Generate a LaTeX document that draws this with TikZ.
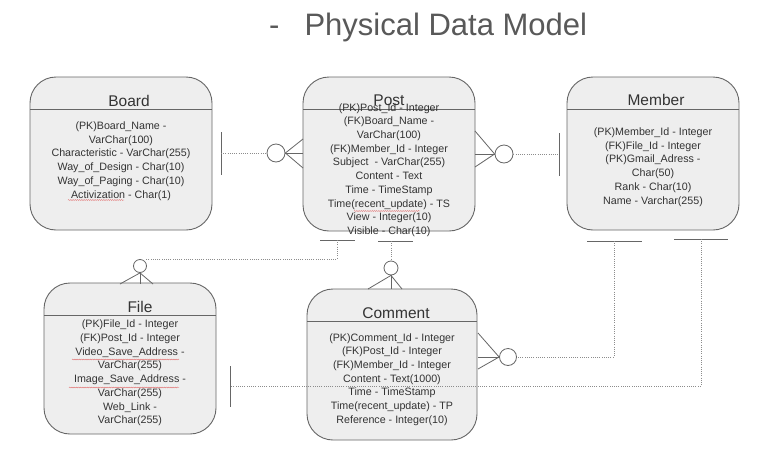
\documentclass[tikz,border=0pt]{standalone}
\usepackage{fontspec}
\setmainfont{Liberation Sans}
\usetikzlibrary{decorations.pathmorphing}
\definecolor{boxfill}{HTML}{EEEEEE}
\definecolor{boxline}{HTML}{666666}
\definecolor{txt}{HTML}{333333}
\definecolor{ttl}{HTML}{595959}
\definecolor{dotc}{HTML}{8C8C8C}
\definecolor{spellc}{HTML}{E06060}
\begin{document}
\begin{tikzpicture}[x=1pt,y=-1pt,
  entity/.style={draw=boxline, fill=boxfill, rounded corners=26pt, line width=0.9pt, inner sep=0pt},
  etitle/.style={font=\fontsize{15.5}{18}\selectfont, text=txt, inner sep=0pt},
  ebody/.style={font=\fontsize{10.7}{13.7}\selectfont, text=txt, align=center, inner sep=0pt},
  hdr/.style={draw=boxline, line width=0.8pt},
  link/.style={draw=dotc, line width=0.8pt, dash pattern=on 0.8pt off 1.4pt},
  bar/.style={draw=boxline, line width=1pt},
  crow/.style={draw=boxline, line width=0.8pt},
  ring/.style={circle, draw=boxline, fill=white, line width=0.8pt, inner sep=0pt, minimum size=#1},
  spell/.style={draw=spellc, line width=0.35pt, decorate, decoration={snake, amplitude=0.5pt, segment length=2.2pt}}
]
\useasboundingbox[fill=white] (0,0) rectangle (782,469);

% title
\node[font=\fontsize{31}{36}\selectfont, text=ttl, anchor=base west, inner sep=0pt] (title) at (269,35) {-\hspace{25pt}Physical Data Model};

% entity boxes
\node[entity, minimum width=182pt, minimum height=153pt] (board) at (121,153.5) {};
\node[entity, minimum width=172pt, minimum height=154pt] (post) at (389,154) {};
\node[entity, minimum width=172pt, minimum height=153pt] (member) at (653,153.5) {};
\node[entity, minimum width=172pt, minimum height=151pt] (file) at (130,358.5) {};
\node[entity, minimum width=170pt, minimum height=151pt] (comment) at (392,364.5) {};

% header lines
\draw[hdr] (30,109) -- (212,109);
\draw[hdr] (303,109) -- (475,109);
\draw[hdr] (567,109) -- (739,109);
\draw[hdr] (44,315) -- (216,315);
\draw[hdr] (307,321) -- (477,321);

% titles
\node[etitle] (boardT) at (129,101) {Board};
\node[etitle] (postT) at (389,100) {Post};
\node[etitle] (memberT) at (656,100) {Member};
\node[etitle] (fileT) at (140,307) {File};
\node[etitle] (commentT) at (396,313) {Comment};

% bodies
\node[ebody] (boardB) at (121,161) {(PK)Board\_Name -\\VarChar(100)\\Characteristic - VarChar(255)\\Way\_of\_Design - Char(10)\\Way\_of\_Paging - Char(10)\\Activization - Char(1)};
\node[ebody] (postB) at (389,170) {(PK)Post\_Id - Integer\\(FK)Board\_Name -\\VarChar(100)\\(FK)Member\_Id - Integer\\Subject\ \ - VarChar(255)\\Content - Text\\Time - TimeStamp\\Time(recent\_update) - TS\\View - Integer(10)\\Visible - Char(10)};
\node[ebody] (memberB) at (653,167) {(PK)Member\_Id - Integer\\(FK)File\_Id - Integer\\(PK)Gmail\_Adress -\\Char(50)\\Rank - Char(10)\\Name - Varchar(255)};
\node[ebody] (fileB) at (130,373) {(PK)File\_Id - Integer\\(FK)Post\_Id - Integer\\Video\_Save\_Address -\\VarChar(255)\\Image\_Save\_Address -\\VarChar(255)\\Web\_Link -\\VarChar(255)};
\node[ebody] (commentB) at (392,379.5) {(PK)Comment\_Id - Integer\\(FK)Post\_Id - Integer\\(FK)Member\_Id - Integer\\Content - Text(1000)\\Time - TimeStamp\\Time(recent\_update) - TP\\Reference - Integer(10)};

% spell-check underlines
\draw[spell] (68,200) -- (124,200);
\draw[spell] (354,211) -- (420,211);
\draw[spell] (72,359.5) -- (179,359.5);
\draw[spell] (69,387.5) -- (179,387.5);

% ---- Board -- Post
\coordinate (b1t) at (221,132);
\coordinate (b1b) at (221,175);
\coordinate (b1m) at (221,153);
\node[ring=18pt] (c1) at (276,153) {};
\coordinate (f1a) at (303,139);
\coordinate (f1b) at (303,153);
\coordinate (f1c) at (303,168);
\draw[bar] (b1t) -- (b1b);
\draw[link] (b1m) -- (c1.west);
\draw[crow] (f1a) -- (c1.east) -- (f1c);
\draw[crow] (c1.east) -- (f1b);

% ---- Post -- Member
\coordinate (b2t) at (559,133);
\coordinate (b2b) at (559,176);
\coordinate (b2m) at (559,154);
\node[ring=18pt] (c2) at (504,154) {};
\coordinate (f2a) at (475,131);
\coordinate (f2b) at (475,154);
\coordinate (f2c) at (475,167);
\draw[bar] (b2t) -- (b2b);
\draw[link] (c2.east) -- (b2m);
\draw[crow] (f2a) -- (c2.west) -- (f2c);
\draw[crow] (f2b) -- (c2.west);

% ---- Post -- File
\coordinate (b3l) at (320,240);
\coordinate (b3r) at (355,240);
\coordinate (b3m) at (337,240);
\coordinate (b3k) at (337,259);
\node[ring=13pt] (c3) at (140,266) {};
\coordinate (c3e) at (146,259);
\coordinate (f3a) at (120,284);
\coordinate (f3b) at (140,284);
\coordinate (f3c) at (153,284);
\draw[bar] (b3l) -- (b3r);
\draw[link] (b3m) -- (b3k) -- (c3e);
\draw[crow] (f3a) -- (c3.south) -- (f3c);
\draw[crow] (c3.south) -- (f3b);

% ---- Post -- Comment
\coordinate (b4l) at (378,241);
\coordinate (b4r) at (413,241);
\coordinate (b4m) at (391,241);
\node[ring=14pt] (c4) at (391,268) {};
\coordinate (f4a) at (368,289);
\coordinate (f4b) at (391,289);
\coordinate (f4c) at (402,289);
\draw[bar] (b4l) -- (b4r);
\draw[link] (b4m) -- (c4.north);
\draw[crow] (f4a) -- (c4.south) -- (f4c);
\draw[crow] (c4.south) -- (f4b);

% ---- Member -- Comment
\coordinate (b5l) at (587,241);
\coordinate (b5r) at (642,241);
\coordinate (b5m) at (614,241);
\coordinate (b5k) at (614,357);
\node[ring=17pt] (c5) at (508,357) {};
\coordinate (f5a) at (478,333);
\coordinate (f5b) at (478,357);
\coordinate (f5c) at (478,369);
\draw[bar] (b5l) -- (b5r);
\draw[link] (b5m) -- (b5k) -- (c5.east);
\draw[crow] (f5a) -- (c5.west) -- (f5c);
\draw[crow] (f5b) -- (c5.west);

% ---- Member -- File
\coordinate (b6l) at (674,239);
\coordinate (b6r) at (728,239);
\coordinate (b6m) at (701,239);
\coordinate (b6k) at (701,386);
\coordinate (b7t) at (230,366);
\coordinate (b7b) at (230,407);
\coordinate (b7m) at (230,386);
\draw[bar] (b6l) -- (b6r);
\draw[bar] (b7t) -- (b7b);
\draw[link] (b6m) -- (b6k) -- (b7m);
\end{tikzpicture}
\end{document}
